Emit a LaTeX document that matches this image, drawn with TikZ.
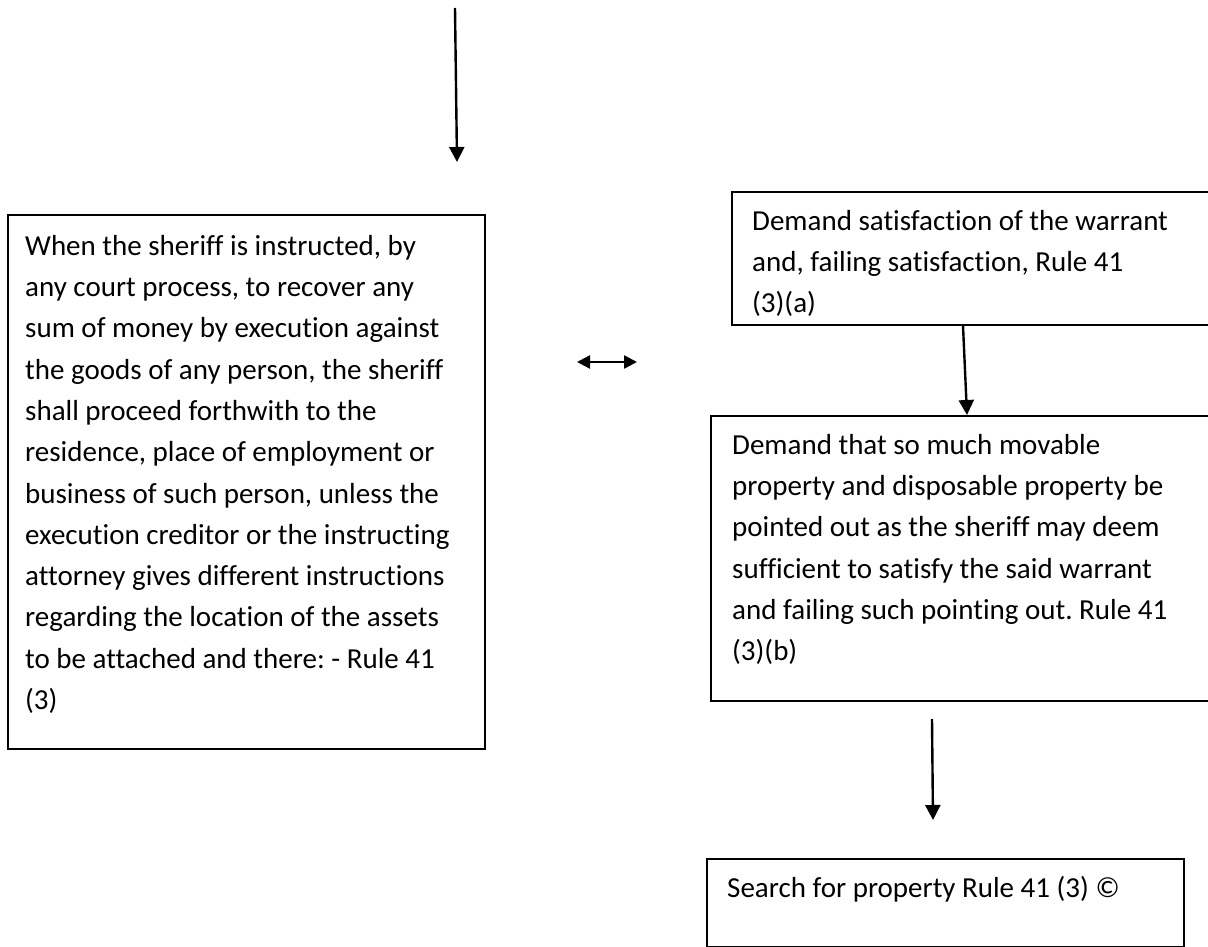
\documentclass[tikz,border=0pt]{standalone}
\usepackage{fontspec}
\setmainfont{Carlito}[Ligatures={NoCommon}]
\usetikzlibrary{arrows.meta,calc}
\newcommand\lnstrut{\vrule height 23pt depth 0pt width 0pt}
\frenchspacing
\begin{document}
\begin{tikzpicture}[x=1pt,y=-1pt,
  box/.style={draw=black, line width=1.6pt, inner sep=0pt, anchor=north west},
  txt/.style={inner sep=0pt, anchor=north west, align=left, font=\fontsize{29}{41.3}\selectfont\frenchspacing},
  arr/.style={line width=2.4pt, -{Triangle[width=15pt,length=15pt]}},
  darr/.style={line width=2.4pt, {Triangle[width=13pt,length=13pt]}-{Triangle[width=13pt,length=13pt]}}]
\useasboundingbox (0,0) rectangle (1208,947);
\clip (0,0) rectangle (1208,947);
\fill[white] (0,0) rectangle (1208,947);

% boxes
\node[box, minimum width=477pt, minimum height=534pt] (L) at (7,214) {};
\node[box, minimum width=540pt, minimum height=133pt] (A) at (731,191) {};
\node[box, minimum width=560pt, minimum height=285pt] (B) at (710,415) {};
\node[box, minimum width=477pt, minimum height=88pt] (C) at (706,858) {};

% texts
\node[txt] (Lt) at (25,232) {\lnstrut When the sheriff is instructed, by\\
any court process, to recover any\\
sum of money by execution against\\
the goods of any person, the sheriff\\
shall proceed forthwith to the\\
residence, place of employment or\\
business of such person, unless the\\
execution creditor or the instructing\\
attorney gives different instructions\\
regarding the location of the assets\\
to be attached and there: - Rule 41\\
(3)};
\node[txt] (At) at (752,207) {\lnstrut Demand satisfaction of the warrant\\
and, failing satisfaction, Rule 41\\
(3)(a)};
\node[txt] (Bt) at (732,431) {\lnstrut Demand that so much movable\\
property and disposable property be\\
pointed out as the sheriff may deem\\
sufficient to satisfy the said warrant\\
and failing such pointing out. Rule 41\\
(3)(b)};
\node[txt] (Ct) at (727,874) {\lnstrut Search for property Rule 41 (3) ©};

% connectors
\coordinate (t0) at (455,8);
\coordinate (t1) at (457,162);
\draw[arr] (t0) -- (t1);

\coordinate (d0) at (577,362);
\coordinate (d1) at (637,362);
\draw[darr] (d0) -- (d1);

\draw[arr] ([xshift=232pt]A.south west) -- ([xshift=257pt]B.north west);

\coordinate (b0) at (932,719);
\coordinate (b1) at (933,820);
\draw[arr] (b0) -- (b1);
\end{tikzpicture}
\end{document}
